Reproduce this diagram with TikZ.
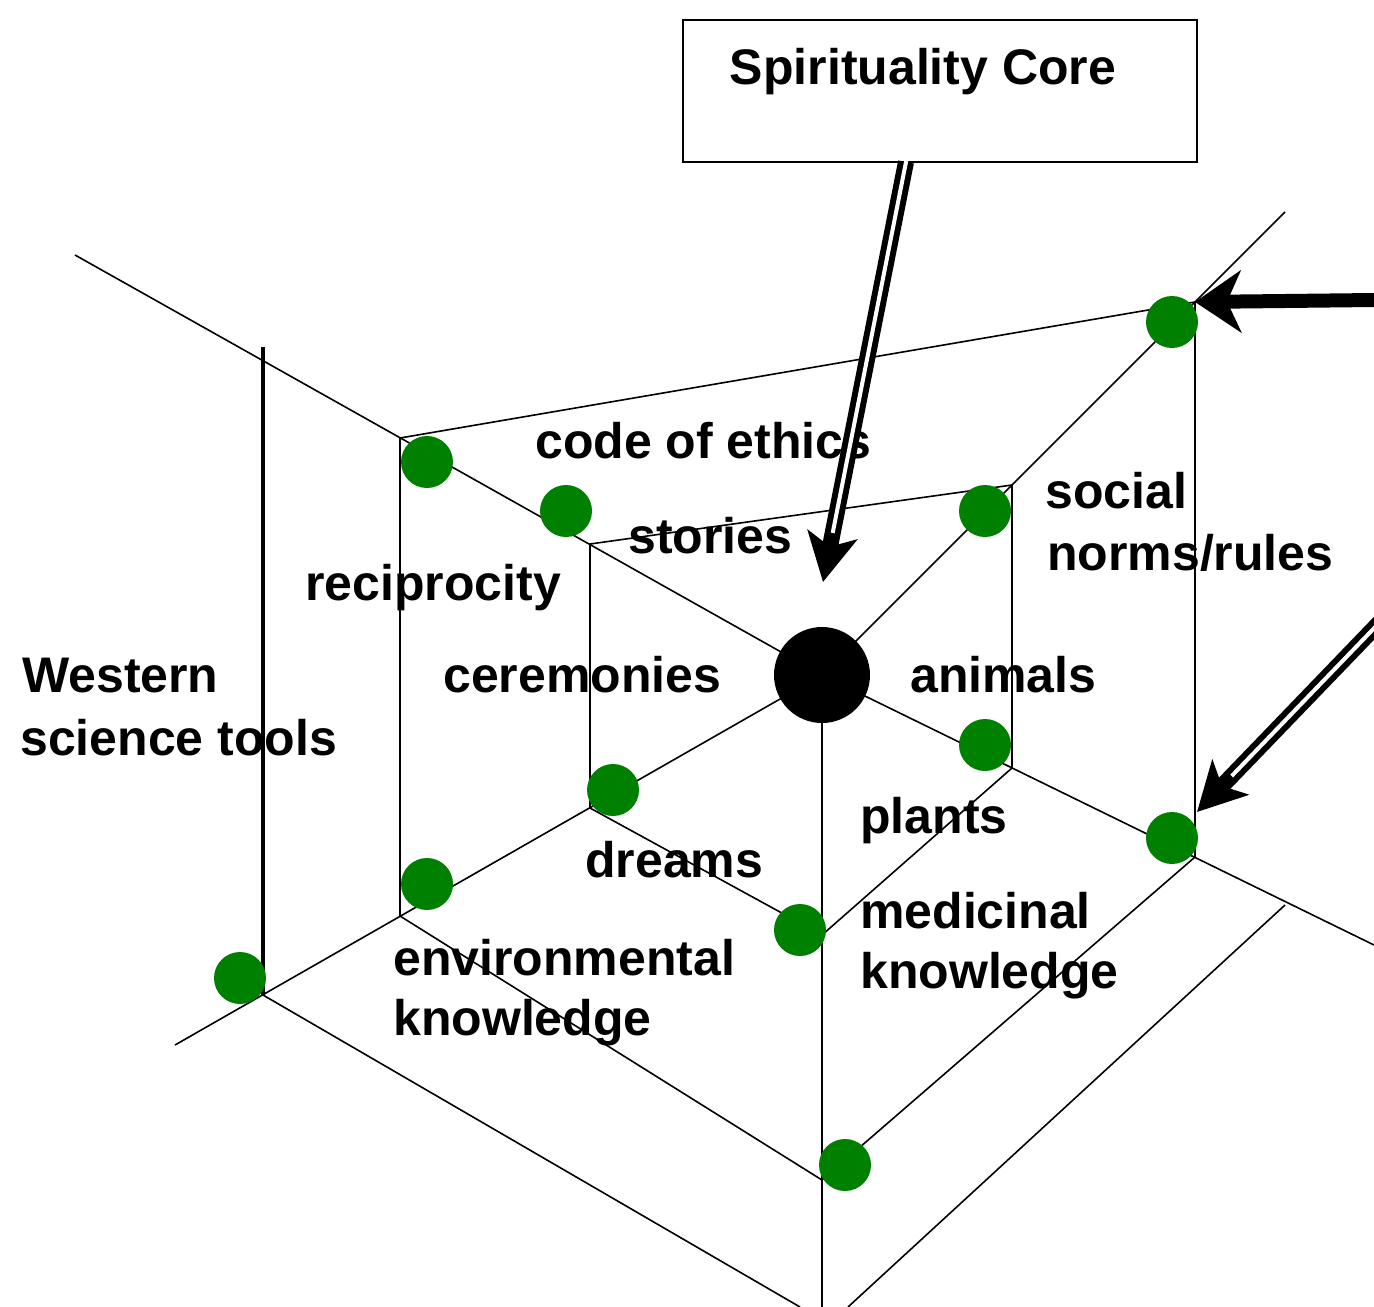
\documentclass[tikz,border=0pt]{standalone}
\usepackage{fontspec}
\setmainfont{Liberation Sans}
\usetikzlibrary{arrows.meta}
\definecolor{dotgreen}{RGB}{0,128,0}

\begin{document}
\begin{tikzpicture}[x=1pt,y=-1pt,
  wire/.style={line width=1.6pt, black},
  post/.style={line width=4pt, black},
  dot/.style={circle, fill=dotgreen, minimum size=52pt, inner sep=0pt},
  hubdot/.style={circle, fill=black, minimum size=96pt, inner sep=0pt},
  lbl/.style={font=\fontsize{50}{60}\selectfont\bfseries, inner sep=0pt, anchor=base west},
  boldarrow/.style={line width=14pt, -{Stealth[length=46pt, width=62pt, inset=14pt]}},
  hollowarrow/.style={line width=16pt, -{Stealth[length=48pt, width=50pt, inset=12pt]}},
  hollowcore/.style={line width=4pt, white, shorten >=50pt, shorten <=-2pt}]

\useasboundingbox (0,0) rectangle (1374,1307);

% centre and the ends of the spokes
\coordinate (C) at (822,675);
\coordinate (ULend) at (75,255);
\coordinate (URend) at (1285,212);
\coordinate (Dend) at (822,1307);
\coordinate (DLend) at (175,1045);
\coordinate (DRend) at (1374,945);

% inner ring
\coordinate (i1) at (590,544);
\coordinate (i2) at (1012,485);
\coordinate (i3) at (1012,768);
\coordinate (i4) at (822,935);
\coordinate (i5) at (590,808);

% middle ring
\coordinate (m1) at (400,438);
\coordinate (m2) at (1195,302);
\coordinate (m3) at (1195,857);
\coordinate (m4) at (822,1180);
\coordinate (m5) at (400,916);

% outer ring
\coordinate (o1) at (263,347);
\coordinate (o5) at (263,995);
\coordinate (o3) at (1285,905);
\coordinate (ob1) at (800,1307);
\coordinate (ob2) at (848,1307);

% spokes
\draw[wire] (C) -- (ULend);
\draw[wire] (C) -- (URend);
\draw[wire] (C) -- (Dend);
\draw[wire] (C) -- (DLend);
\draw[wire] (C) -- (DRend);

% inner ring
\draw[wire] (i5) -- (i1) -- (i2) -- (i3) -- (i4) -- (i5);

% middle ring
\draw[wire] (m5) -- (m1) -- (m2) -- (m3) -- (m4) -- (m5);

% outer ring
\draw[post] (o1) -- (o5);
\draw[wire] (o5) -- (ob1);
\draw[wire] (o3) -- (ob2);

% knowledge points
\node[dot] (g1) at (427,462) {};
\node[dot] (g2) at (566,511) {};
\node[dot] (g3) at (985,511) {};
\node[dot] (g4) at (1172,322) {};
\node[dot] (g5) at (985,745) {};
\node[dot] (g6) at (1172,838) {};
\node[dot] (g7) at (613,790) {};
\node[dot] (g8) at (427,884) {};
\node[dot] (g9) at (240,978) {};
\node[dot] (g10) at (800,930) {};
\node[dot] (g11) at (845,1165) {};
\node[hubdot] (hub) at (C) {};

% labels
\node[lbl] (ethics) at (535,458) {code of ethics};
\node[lbl] (stories) at (628,553) {stories};
\node[lbl] (social) at (1045,508) {social};
\node[lbl] (norms) at (1047,570) {norms/rules};
\node[lbl] (recip) at (305,600) {reciprocity};
\node[lbl] (west) at (22,692) {Western};
\node[lbl] (sci) at (20,755) {science tools};
\node[lbl] (cere) at (443,692) {ceremonies};
\node[lbl] (anim) at (910,692) {animals};
\node[lbl] (plants) at (860,833) {plants};
\node[lbl] (dreams) at (585,877) {dreams};
\node[lbl] (medi) at (860,928) {medicinal};
\node[lbl] (medk) at (860,988) {knowledge};
\node[lbl] (env) at (393,975) {environmental};
\node[lbl] (envk) at (393,1035) {knowledge};

% core box
\node[draw, line width=1.6pt, minimum width=514pt, minimum height=142pt, inner sep=0pt] (core) at (940,91) {};
\node[font=\fontsize{50}{60}\selectfont\bfseries, inner sep=0pt] (coretxt) at (923,72) {Spirituality Core};

% arrows
\coordinate (a1s) at (906,162);
\coordinate (a1e) at (823,582);
\draw[hollowarrow] (a1s) -- (a1e);
\draw[hollowcore] (a1s) -- (a1e);

\coordinate (a2s) at (1374,300);
\draw[boldarrow] (a2s) -- (m2);

\coordinate (a3s) at (1382,620);
\coordinate (a3e) at (1197,812);
\draw[hollowarrow] (a3s) -- (a3e);
\draw[hollowcore] (a3s) -- (a3e);

\end{tikzpicture}
\end{document}
